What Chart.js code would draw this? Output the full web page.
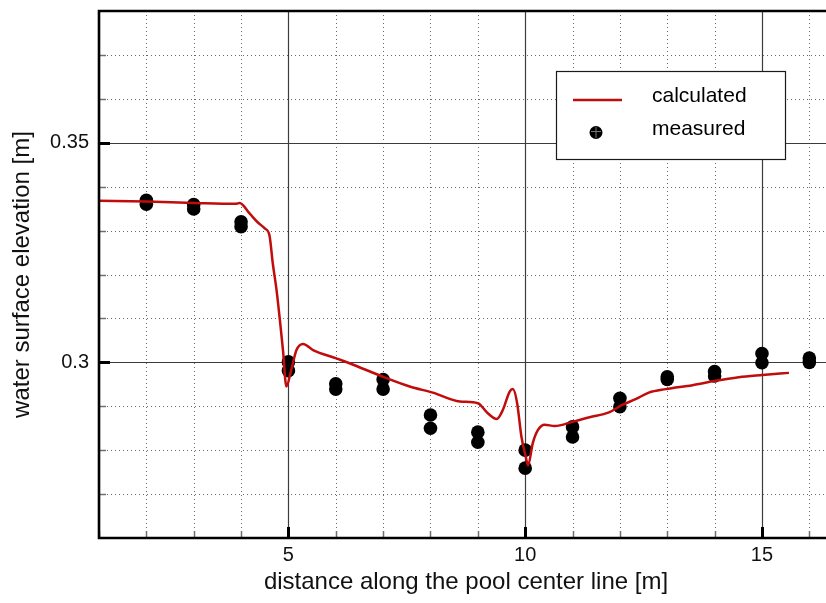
<!DOCTYPE html>
<html>
<head>
<meta charset="utf-8">
<script src="https://cdn.jsdelivr.net/npm/chart.js@4"></script>
<style>
  html, body { margin: 0; padding: 0; background: #fff; overflow: hidden; }
  #wrap { width: 840px; height: 603px; }
</style>
</head>
<body>
<div id="wrap"><canvas id="c" width="840" height="603"></canvas></div>
<script>
// Simulated water surface along the pool centre line
const calcX = [1.0, 2.0, 3.0, 3.89, 3.97, 4.18, 4.35, 4.50, 4.60, 4.67, 4.75, 4.82, 4.885, 4.957,
  5.06, 5.17, 5.31, 5.52, 6.01, 6.29, 7.0, 7.56, 8.05, 8.62, 9.0, 9.21, 9.40, 9.53, 9.67, 9.74,
  9.83, 9.92, 10.01, 10.06, 10.16, 10.27, 10.41, 10.62, 11.01, 11.36, 11.77, 12.05, 12.33,
  12.61, 12.97, 13.53, 14.02, 14.51, 15.01, 15.57];
const calcY = [0.3368, 0.3366, 0.3363, 0.3361, 0.3363, 0.3339, 0.3319, 0.3305, 0.3289, 0.3225,
  0.3164, 0.3096, 0.3028, 0.2945, 0.2983, 0.3028, 0.3042, 0.3028, 0.3009, 0.2998, 0.2967,
  0.2945, 0.2931, 0.2911, 0.2907, 0.2884, 0.2871, 0.2892, 0.2933, 0.2939, 0.2907, 0.2831,
  0.2786, 0.2765, 0.2816, 0.2846, 0.2858, 0.2855, 0.2865, 0.2875, 0.2886, 0.2903, 0.2916,
  0.2931, 0.2939, 0.2948, 0.2958, 0.2966, 0.2971, 0.2976];

// Gauge readings: two readings at each station
const measuredX    = [2, 3, 4, 5, 6, 7, 8, 9, 10, 11, 12, 13, 14, 15, 16];
const measuredHigh = [0.3369, 0.3359, 0.3320, 0.3001, 0.2951, 0.2961, 0.2880, 0.2841, 0.2800,
  0.2853, 0.2918, 0.2967, 0.2979, 0.3020, 0.3010];
const measuredLow  = [0.3360, 0.3349, 0.3309, 0.2981, 0.2939, 0.2939, 0.2850, 0.2818, 0.2759,
  0.2830, 0.2899, 0.2961, 0.2969, 0.2999, 0.3000];

const xTickLabels = [5, 10, 15];
const yTickLabels = [0.3, 0.35];
const seriesNames = ['calculated', 'measured'];

const X_MIN = 1, X_MAX = 16.5, Y_MIN = 0.26, Y_MAX = 0.38;
const LINE_RED = '#c00c0c';
const FONT = '"Liberation Sans", Arial, sans-serif';

const calcPoints = calcX.map((x, i) => ({ x, y: calcY[i] }));
const measuredPoints = [];
measuredX.forEach((x, i) => {
  measuredPoints.push({ x, y: measuredHigh[i] });
  measuredPoints.push({ x, y: measuredLow[i] });
});

// Grid, frame, tick marks and the framed legend
const framePlugin = {
  id: 'frame',
  beforeDatasetsDraw(chart) {
    const { ctx, chartArea: a, scales: { x, y } } = chart;
    ctx.save();
    // minor dotted grid
    ctx.strokeStyle = '#6a6a6a';
    ctx.lineWidth = 1;
    ctx.setLineDash([1, 3]);
    for (let v = Math.ceil(X_MIN); v <= X_MAX; v++) {
      if (v % 5 === 0) continue;
      const px = Math.round(x.getPixelForValue(v)) + 0.5;
      ctx.beginPath(); ctx.moveTo(px, a.top); ctx.lineTo(px, a.bottom); ctx.stroke();
    }
    for (let k = 27; k <= 37; k++) {
      if (k % 5 === 0) continue;
      const py = Math.round(y.getPixelForValue(k / 100)) + 0.5;
      ctx.beginPath(); ctx.moveTo(a.left, py); ctx.lineTo(a.right, py); ctx.stroke();
    }
    // major solid grid
    ctx.setLineDash([]);
    ctx.strokeStyle = '#3c3c3c';
    ctx.lineWidth = 1.2;
    xTickLabels.forEach(v => {
      const px = Math.round(x.getPixelForValue(v)) + 0.5;
      ctx.beginPath(); ctx.moveTo(px, a.top); ctx.lineTo(px, a.bottom); ctx.stroke();
    });
    yTickLabels.forEach(v => {
      const py = Math.round(y.getPixelForValue(v)) + 0.5;
      ctx.beginPath(); ctx.moveTo(a.left, py); ctx.lineTo(a.right, py); ctx.stroke();
    });
    ctx.restore();
  },
  afterDatasetsDraw(chart) {
    const { ctx, chartArea: a, scales: { x, y } } = chart;
    ctx.save();
    // minor tick marks
    ctx.strokeStyle = '#707070';
    ctx.lineWidth = 1.5;
    for (let v = Math.ceil(X_MIN); v <= X_MAX; v++) {
      if (v % 5 === 0) continue;
      const px = Math.round(x.getPixelForValue(v)) + 0.5;
      ctx.beginPath(); ctx.moveTo(px, a.bottom); ctx.lineTo(px, a.bottom - 7); ctx.stroke();
    }
    for (let k = 27; k <= 37; k++) {
      if (k % 5 === 0) continue;
      const py = Math.round(y.getPixelForValue(k / 100)) + 0.5;
      ctx.beginPath(); ctx.moveTo(a.left, py); ctx.lineTo(a.left + 7, py); ctx.stroke();
    }
    // major tick marks
    ctx.strokeStyle = '#000';
    ctx.lineWidth = 3;
    xTickLabels.forEach(v => {
      const px = Math.round(x.getPixelForValue(v)) + 0.5;
      ctx.beginPath(); ctx.moveTo(px, a.bottom); ctx.lineTo(px, a.bottom - 11); ctx.stroke();
    });
    yTickLabels.forEach(v => {
      const py = Math.round(y.getPixelForValue(v)) + 0.5;
      ctx.beginPath(); ctx.moveTo(a.left, py); ctx.lineTo(a.left + 11, py); ctx.stroke();
    });
    // frame
    ctx.lineWidth = 2.6;
    ctx.beginPath();
    ctx.moveTo(a.right, a.top); ctx.lineTo(a.left, a.top);
    ctx.lineTo(a.left, a.bottom); ctx.lineTo(a.right, a.bottom);
    ctx.lineTo(a.right, a.top);
    ctx.stroke();

    // legend box
    const bx = 556.5, by = 71.5, bw = 229, bh = 88;
    ctx.fillStyle = '#fff';
    ctx.fillRect(bx, by, bw, bh);
    ctx.strokeStyle = '#1a1a1a';
    ctx.lineWidth = 1.2;
    ctx.strokeRect(bx, by, bw, bh);
    ctx.strokeStyle = LINE_RED;
    ctx.lineWidth = 2.6;
    ctx.beginPath(); ctx.moveTo(573, 100); ctx.lineTo(622, 100); ctx.stroke();
    ctx.fillStyle = '#000';
    ctx.beginPath(); ctx.arc(596, 132.5, 6.5, 0, Math.PI * 2); ctx.fill();
    ctx.strokeStyle = '#777';
    ctx.lineWidth = 1;
    ctx.beginPath();
    ctx.moveTo(596, 127); ctx.lineTo(596, 138);
    ctx.moveTo(591, 131.5); ctx.lineTo(601, 131.5);
    ctx.stroke();
    ctx.fillStyle = '#000';
    ctx.font = '21px ' + FONT;
    ctx.textBaseline = 'alphabetic';
    ctx.textAlign = 'left';
    ctx.fillText(seriesNames[0], 652, 101.5);
    ctx.fillText(seriesNames[1], 652, 134.5);
    ctx.restore();
  }
};

new Chart(document.getElementById('c'), {
  type: 'scatter',
  data: {
    datasets: [
      {
        label: seriesNames[0],
        data: calcPoints,
        showLine: true,
        borderColor: LINE_RED,
        borderWidth: 2.5,
        pointRadius: 0,
        tension: 0.25,
        cubicInterpolationMode: 'monotone'
      },
      {
        label: seriesNames[1],
        data: measuredPoints,
        showLine: false,
        pointRadius: 6.8,
        pointHoverRadius: 6.8,
        pointStyle: 'circle',
        backgroundColor: '#000',
        borderColor: '#000',
        borderWidth: 0
      }
    ]
  },
  options: {
    responsive: false,
    animation: false,
    devicePixelRatio: 1,
    layout: { padding: { left: 0, top: 11, right: 7, bottom: 0 } },
    plugins: { legend: { display: false }, tooltip: { enabled: false } },
    scales: {
      x: {
        type: 'linear',
        min: X_MIN, max: X_MAX,
        grid: { display: false, drawTicks: false },
        border: { display: false },
        afterBuildTicks: s => { s.ticks = xTickLabels.map(v => ({ value: v })); },
        afterFit: s => { s.height = 65; s.paddingLeft = 0; s.paddingRight = 0; },
        ticks: {
          autoSkip: false, maxRotation: 0, padding: 5,
          color: '#111', font: { family: FONT, size: 20 },
          callback: v => String(v)
        },
        title: {
          display: true, text: 'distance along the pool center line [m]',
          color: '#111', font: { family: FONT, size: 24, lineHeight: 1.2 },
          padding: { top: 0, bottom: 6 }
        }
      },
      y: {
        type: 'linear',
        min: Y_MIN, max: Y_MAX,
        grid: { display: false, drawTicks: false },
        border: { display: false },
        afterBuildTicks: s => { s.ticks = yTickLabels.map(v => ({ value: v })); },
        afterFit: s => { s.width = 99; s.paddingTop = 0; s.paddingBottom = 0; },
        ticks: {
          autoSkip: false, padding: 10,
          color: '#111', font: { family: FONT, size: 20 },
          callback: v => String(v)
        },
        title: {
          display: true, text: 'water surface elevation [m]',
          color: '#111', font: { family: FONT, size: 24, lineHeight: 1.2 },
          padding: { top: 8, bottom: 0 }
        }
      }
    }
  },
  plugins: [framePlugin]
});
</script>
</body>
</html>
